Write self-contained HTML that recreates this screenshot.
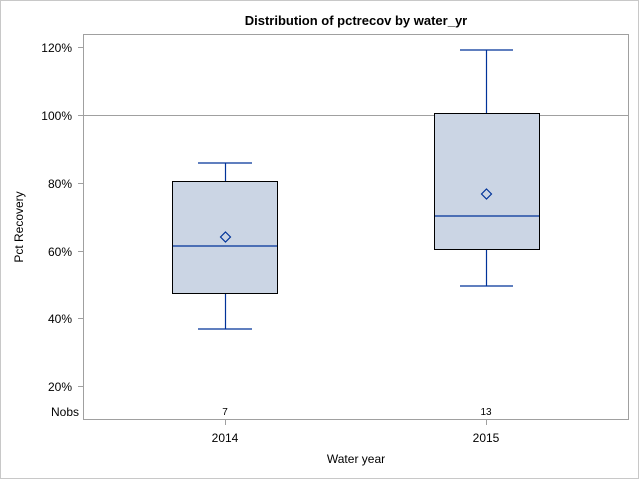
<!DOCTYPE html><html><head><style>body{margin:0}svg{display:block}text{font-family:"Liberation Sans",Arial,sans-serif}</style></head><body>
<svg width="640" height="480" xmlns="http://www.w3.org/2000/svg">
<rect x="0.5" y="0.5" width="638" height="478" fill="#fff" stroke="#c8c8c8"/>
<text x="356" y="25" font-size="13" font-weight="bold" text-anchor="middle">Distribution of pctrecov by water_yr</text>
<line x1="84" y1="115.5" x2="628" y2="115.5" stroke="#a0a0a0"/>
<g stroke="#003399" stroke-width="1.2" fill="none">
<line x1="225.5" y1="163" x2="225.5" y2="181"/><line x1="198" y1="163" x2="252" y2="163"/>
<line x1="225.5" y1="294" x2="225.5" y2="329"/><line x1="198" y1="329" x2="252" y2="329"/>
<line x1="486.5" y1="50" x2="486.5" y2="113"/><line x1="460" y1="50" x2="513" y2="50"/>
<line x1="486.5" y1="250" x2="486.5" y2="286"/><line x1="460" y1="286" x2="513" y2="286"/>
</g>
<rect x="172.5" y="181.5" width="105" height="112" fill="#cbd5e4" stroke="#000"/>
<rect x="434.5" y="113.5" width="105" height="136" fill="#cbd5e4" stroke="#000"/>
<line x1="173" y1="246" x2="277" y2="246" stroke="#003399" stroke-width="1.2"/>
<line x1="435" y1="216" x2="539" y2="216" stroke="#003399" stroke-width="1.2"/>
<path d="M225.5 232 L230.5 237 L225.5 242 L220.5 237 Z" fill="none" stroke="#003399" stroke-width="1.2"/>
<path d="M486.5 189 L491.5 194 L486.5 199 L481.5 194 Z" fill="none" stroke="#003399" stroke-width="1.2"/>
<rect x="83.5" y="34.5" width="545" height="385" fill="none" stroke="#a0a0a0"/>
<g stroke="#a0a0a0">
<line x1="78" y1="47.5" x2="83" y2="47.5"/><line x1="78" y1="115.5" x2="83" y2="115.5"/><line x1="78" y1="183.5" x2="83" y2="183.5"/><line x1="78" y1="251.5" x2="83" y2="251.5"/><line x1="78" y1="318.5" x2="83" y2="318.5"/><line x1="78" y1="386.5" x2="83" y2="386.5"/>
<line x1="225.5" y1="420" x2="225.5" y2="425"/><line x1="486.5" y1="420" x2="486.5" y2="425"/>
</g>
<g font-size="12" text-anchor="end">
<text x="72" y="52">120%</text><text x="72" y="120">100%</text><text x="72" y="188">80%</text><text x="72" y="256">60%</text><text x="72" y="323">40%</text><text x="72" y="391">20%</text><text x="79" y="416">Nobs</text>
</g>
<g font-size="10" text-anchor="middle"><text x="225" y="415">7</text><text x="486" y="415">13</text></g>
<g font-size="12" text-anchor="middle"><text x="225" y="442">2014</text><text x="486" y="442">2015</text>
<text x="356" y="463">Water year</text>
<text transform="translate(23 227) rotate(-90)" >Pct Recovery</text></g>
</svg></body></html>
